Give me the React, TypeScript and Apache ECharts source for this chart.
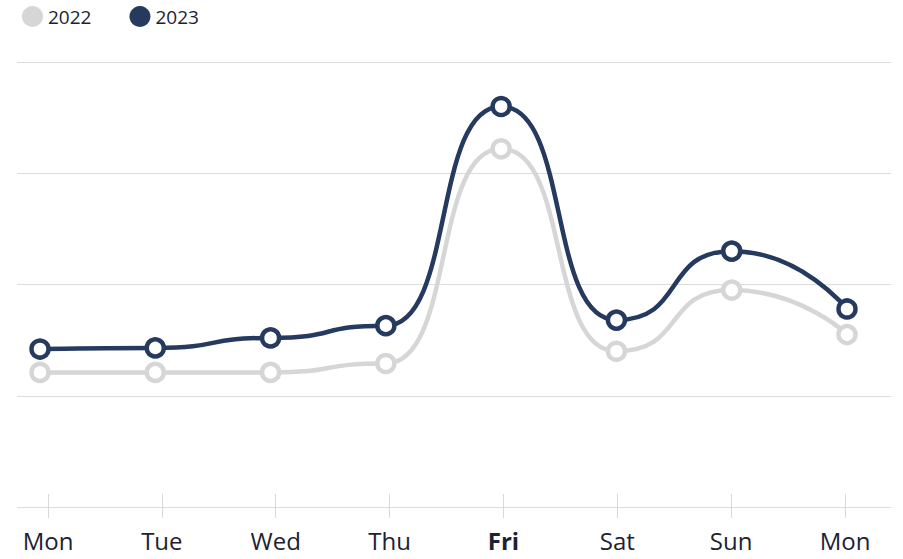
import React, { useEffect, useRef } from "react";
import * as echarts from "echarts";

const days = ["Mon", "Tue", "Wed", "Thu", "Fri", "Sat", "Sun", "Mon"];
const boldDay = "Fri";
const values2022 = [121, 121, 121, 129, 322, 140, 195, 155];
const values2023 = [142, 143, 152, 163, 360, 168, 230, 178];
const yMin = 0;
const yMax = 400;
const yStep = 100;

const GRAY = "#d6d6d6";
const NAVY = "#263a5f";
const TEXT = "#1c2233";
const FONT = "'Open Sans', sans-serif";

export default function App() {
  const ref = useRef<HTMLDivElement>(null);
  useEffect(() => {
    if (!ref.current) return;
    const chart = echarts.init(ref.current, undefined, { renderer: "svg" });
    const seriesStyle = (color: string, z: number) => ({
      type: "line" as const,
      xAxisIndex: 1,
      yAxisIndex: 1,
      smooth: 0.6,
      smoothMonotone: "x",
      symbol: "circle",
      symbolSize: 17,
      z,
      lineStyle: { color, width: 4.5 },
      itemStyle: { color: "#ffffff", borderColor: color, borderWidth: 4.5 },
      emphasis: { disabled: true },
    });
    chart.setOption({
      animation: false,
      textStyle: { fontFamily: FONT },
      legend: {
        left: 17,
        top: 1,
        icon: "circle",
        itemWidth: 21,
        itemHeight: 21,
        itemGap: 38,
        textStyle: { fontSize: 19, fontWeight: 500, color: TEXT, fontFamily: FONT },
        data: [
          { name: "2022", itemStyle: { color: GRAY, borderWidth: 0 } },
          { name: "2023", itemStyle: { color: NAVY, borderWidth: 0 } },
        ],
      },
      grid: [
        { left: 17, right: 12, top: 62, bottom: 52 },
        { left: 40, right: 56, top: 62, bottom: 52 },
        { left: 48, right: 58, top: 62, bottom: 65 },
      ],
      xAxis: [
        { type: "category", gridIndex: 0, data: days, show: false },
        { type: "category", gridIndex: 1, data: days, boundaryGap: false, show: false },
        {
          type: "category",
          gridIndex: 2,
          boundaryGap: false,
          data: days.map((d) =>
            d === boldDay ? { value: d, textStyle: { fontWeight: "bold" } } : d
          ),
          axisLine: { show: false },
          axisTick: { show: true, length: 24, lineStyle: { color: "#d9d9d9", width: 1 } },
          axisLabel: { fontSize: 24, lineHeight: 24, color: TEXT, fontFamily: FONT, margin: 34 },
          splitLine: { show: false },
        },
      ],
      yAxis: [
        {
          type: "value",
          gridIndex: 0,
          min: yMin,
          max: yMax,
          interval: yStep,
          axisLine: { show: false },
          axisTick: { show: false },
          axisLabel: { show: false },
          splitLine: { show: true, lineStyle: { color: "#dcdcdc", width: 1 } },
        },
        { type: "value", gridIndex: 1, min: yMin, max: yMax, interval: yStep, show: false, splitLine: { show: false } },
        { type: "value", gridIndex: 2, min: yMin, max: yMax, interval: yStep, show: false, splitLine: { show: false } },
      ],
      series: [
        { name: "2022", data: values2022, ...seriesStyle(GRAY, 2) },
        { name: "2023", data: values2023, ...seriesStyle(NAVY, 3) },
      ],
    });
    return () => chart.dispose();
  }, []);
  return <div ref={ref} style={{ width: 903, height: 559, position: "absolute", left: 0, top: 0 }} />;
}
